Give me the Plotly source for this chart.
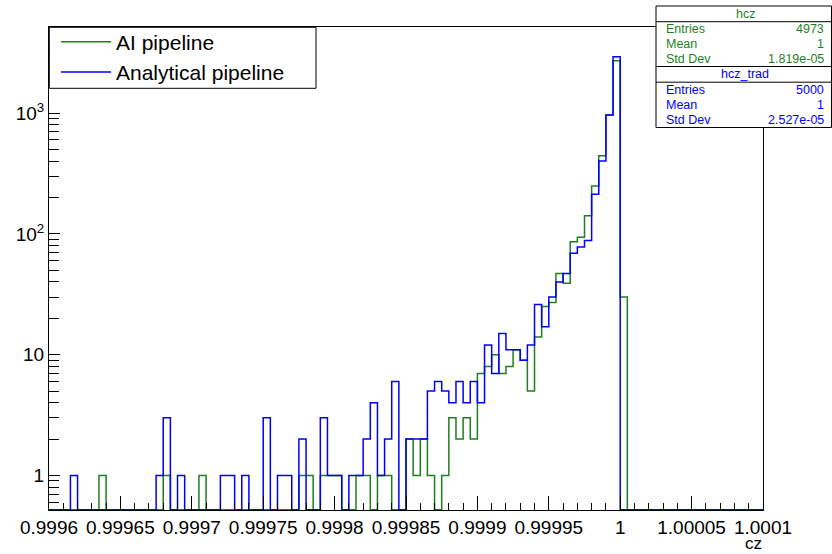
import numpy as np
import plotly.graph_objects as go

# ---------------- data ----------------
x_min, x_max = 0.9996, 1.0001
n_bins = 100

ai_counts = [
    0, 0, 0, 0, 0, 0, 0, 1, 0, 0,
    0, 0, 0, 0, 0, 0, 1, 0, 0, 0,
    0, 1, 0, 0, 0, 0, 0, 0, 0, 0,
    0, 0, 0, 0, 0, 1, 1, 0, 1, 1,
    1, 0, 0, 1, 1, 0, 1, 1, 0, 0,
    2, 1, 2, 1, 0, 1, 3, 2, 3, 2,
    7, 8, 10, 7, 8, 11, 9, 5, 14, 25,
    27, 47, 39, 86, 94, 141, 249, 444, 964, 2716,
    30, 0, 0, 0, 0, 0, 0, 0, 0, 0,
    0, 0, 0, 0, 0, 0, 0, 0, 0, 0,
]
analytical_counts = [
    0, 0, 0, 1, 0, 0, 0, 0, 0, 0,
    0, 0, 0, 0, 0, 1, 3, 0, 1, 0,
    0, 0, 0, 0, 1, 1, 0, 1, 0, 0,
    3, 0, 1, 1, 0, 2, 0, 0, 3, 1,
    1, 0, 1, 1, 2, 4, 1, 2, 6, 0,
    2, 2, 2, 5, 6, 5, 4, 6, 4, 6,
    4, 12, 7, 15, 11, 11, 9, 12, 26, 17,
    30, 40, 47, 69, 78, 88, 213, 401, 964, 2930,
    0, 0, 0, 0, 0, 0, 0, 0, 0, 0,
    0, 0, 0, 0, 0, 0, 0, 0, 0, 0,
]

x_tick_vals = [0.9996, 0.99965, 0.9997, 0.99975, 0.9998, 0.99985, 0.9999, 0.99995, 1.0, 1.00005, 1.0001]
x_tick_text = ["0.9996", "0.99965", "0.9997", "0.99975", "0.9998", "0.99985", "0.9999", "0.99995", "1", "1.00005", "1.0001"]
y_tick_vals = [1, 10, 100, 1000]
y_tick_text = ["1", "10", "10<sup>2</sup>", "10<sup>3</sup>"]

stats_ai = [("Entries", "4973"), ("Mean", "1"), ("Std Dev", "1.819e-05")]
stats_an = [("Entries", "5000"), ("Mean", "1"), ("Std Dev", "2.527e-05")]

# ---------------- styling ----------------
GREEN = "#1f7f1f"
BLUE = "#0000ff"
FONT = "Liberation Sans, Arial, Helvetica, sans-serif"

W, H = 832, 554
L, R, T, B = 49, 69, 27, 44
PW, PH = W - L - R, H - T - B
y_log_min, y_log_max = -0.286, 3.713
y_floor = 10 ** (y_log_min + 0.002)


def px_x(X):
    return (X - L) / PW


def px_y(Y):
    return (H - B - Y) / PH


edges = np.linspace(x_min, x_max, n_bins + 1)


def step_y(counts):
    vals = [c if c > 0 else y_floor for c in counts]
    return vals + [vals[-1]]


fig = go.Figure()
fig.add_trace(go.Scatter(x=edges, y=step_y(ai_counts), mode="lines", line_shape="hv",
                         line=dict(color=GREEN, width=1.5), name="AI pipeline"))
fig.add_trace(go.Scatter(x=edges, y=step_y(analytical_counts), mode="lines", line_shape="hv",
                         line=dict(color=BLUE, width=1.5), name="Analytical pipeline"))

minor_y = [m * 10 ** e for e in range(-1, 4) for m in range(2, 10)
           if y_log_min <= np.log10(m * 10 ** e) <= y_log_max and m * 10 ** e not in y_tick_vals]

fig.update_layout(
    width=W, height=H,
    margin=dict(l=L, r=R, t=T, b=B),
    paper_bgcolor="white", plot_bgcolor="white",
    font=dict(family=FONT, size=19, color="black"),
    showlegend=True,
    legend=dict(x=px_x(56), y=px_y(21.5), xanchor="left", yanchor="top",
                bgcolor="rgba(0,0,0,0)", borderwidth=0,
                font=dict(family=FONT, size=21, color="black"),
                itemwidth=50, tracegroupgap=0),
    xaxis=dict(range=[x_min, x_max], tickmode="array", tickvals=x_tick_vals, ticktext=x_tick_text,
               ticks="inside", ticklen=14, tickwidth=1, tickcolor="black",
               showline=True, linecolor="black", linewidth=1, mirror=True,
               showgrid=False, zeroline=False,
               minor=dict(tickmode="linear", tick0=x_min, dtick=1e-5, ticks="inside",
                          ticklen=7, tickcolor="black", showgrid=False)),
    yaxis=dict(type="log", range=[y_log_min, y_log_max], tickmode="array",
               tickvals=y_tick_vals, ticktext=y_tick_text,
               ticks="inside", ticklen=11, tickwidth=1, tickcolor="black",
               showline=True, linecolor="black", linewidth=1, mirror=True,
               showgrid=False, zeroline=False,
               minor=dict(tickmode="array", tickvals=minor_y, ticks="inside",
                          ticklen=10, tickcolor="black", showgrid=False)),
)

shapes = []
annotations = []

# legend frame
shapes.append(dict(type="rect", xref="paper", yref="paper",
                   x0=px_x(49.3), x1=px_x(316), y0=px_y(88.3), y1=px_y(27.3),
                   line=dict(color="black", width=1), fillcolor="white", layer="above"))

# stats boxes
def stats_box(top, title, rows, color):
    x0, x1 = 656, 831.5
    bottom = top + 61
    sep = top + 15.7
    shapes.append(dict(type="rect", xref="paper", yref="paper",
                       x0=px_x(x0), x1=px_x(x1), y0=px_y(bottom), y1=px_y(top),
                       line=dict(color="black", width=1), fillcolor="white", layer="above"))
    shapes.append(dict(type="line", xref="paper", yref="paper",
                       x0=px_x(x0), x1=px_x(x1), y0=px_y(sep), y1=px_y(sep),
                       line=dict(color="black", width=1), layer="above"))
    annotations.append(dict(xref="paper", yref="paper", x=px_x(745), y=px_y(top + 8),
                            text=title, showarrow=False, xanchor="center", yanchor="middle",
                            font=dict(family=FONT, size=12.5, color=color)))
    for i, (k, v) in enumerate(rows):
        yy = top + 23 + 15.2 * i
        annotations.append(dict(xref="paper", yref="paper", x=px_x(664), y=px_y(yy),
                                text=k, showarrow=False, xanchor="left", yanchor="middle",
                                font=dict(family=FONT, size=12.5, color=color)))
        annotations.append(dict(xref="paper", yref="paper", x=px_x(826.5), y=px_y(yy),
                                text=v, showarrow=False, xanchor="right", yanchor="middle",
                                font=dict(family=FONT, size=12.5, color=color)))


stats_box(6, "hcz", stats_ai, GREEN)
stats_box(66.5, "hcz_trad", stats_an, BLUE)

# axis title
annotations.append(dict(xref="paper", yref="paper", x=1.0, y=px_y(554), text="cz",
                        showarrow=False, xanchor="right", yanchor="bottom", borderpad=0,
                        font=dict(family=FONT, size=17, color="black")))

fig.update_layout(shapes=shapes, annotations=annotations)
fig.write_html("out.html")
